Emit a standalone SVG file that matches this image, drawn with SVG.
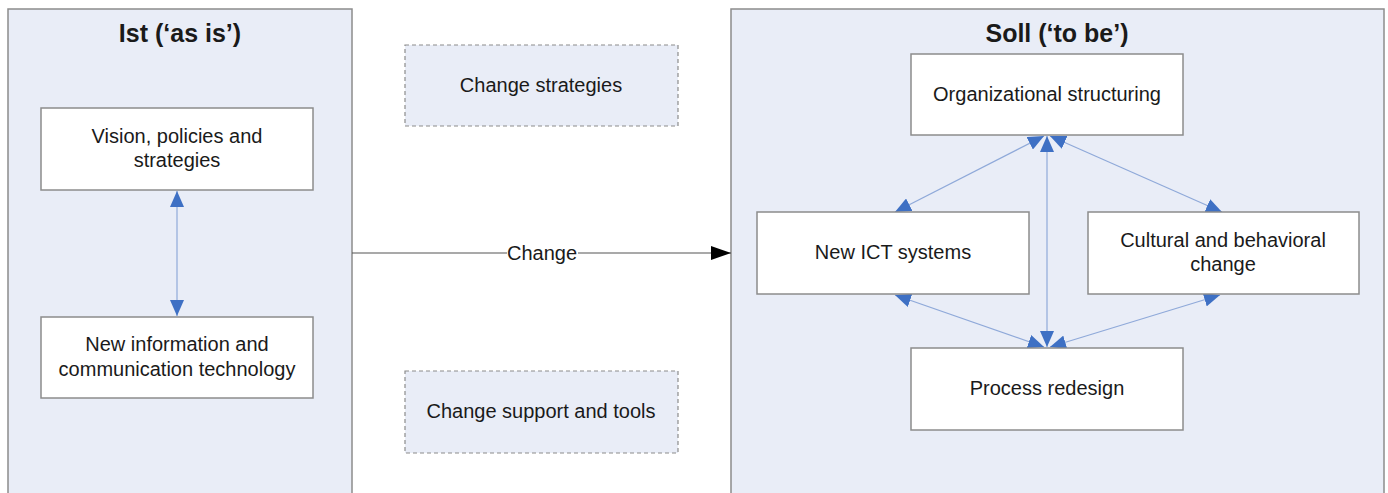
<svg xmlns="http://www.w3.org/2000/svg" width="1388" height="493" viewBox="0 0 1388 493">
  <style>
    .panel { fill: #E9EDF7; stroke: #8C8C8C; stroke-width: 1.5; }
    .box { fill: #FFFFFF; stroke: #8C8C8C; stroke-width: 1.5; }
    .dashed { fill: #E9EDF7; stroke: #8C8C8C; stroke-width: 1.2; stroke-dasharray: 4 3; }
    text { font-family: "Liberation Sans", Arial, sans-serif; fill: #1A1A1A; text-anchor: middle; }
    .label { font-size: 20px; }
    .title { font-size: 25px; font-weight: bold; }
    .rel { stroke: #8FA9D9; stroke-width: 1.2; fill: none; marker-start: url(#blueHead); marker-end: url(#blueHead); }
  </style>
  <defs>
    <marker id="blueHead" viewBox="0 0 16 14" refX="16" refY="7" markerWidth="16" markerHeight="14" markerUnits="userSpaceOnUse" orient="auto-start-reverse">
      <path d="M0,0 L16,7 L0,14 Z" fill="#3E70C4"/>
    </marker>
    <marker id="blackHead" viewBox="0 0 20 14" refX="20" refY="7" markerWidth="20" markerHeight="14" markerUnits="userSpaceOnUse" orient="auto">
      <path d="M0,0 L20,7 L0,14 Z" fill="#000000"/>
    </marker>
  </defs>
  <rect width="1388" height="493" fill="#FFFFFF"/>

  <g id="panel-ist">
    <rect class="panel" x="8" y="9" width="344" height="500"/>
    <text class="title" x="180" y="42">Ist (‘as is’)</text>
  </g>
  <g id="panel-soll">
    <rect class="panel" x="731" y="9" width="653" height="500"/>
    <text class="title" x="1057" y="42">Soll (‘to be’)</text>
  </g>

  <g id="connectors">
    <line class="rel" x1="177" y1="191" x2="177" y2="316"/>
    <line x1="352" y1="253" x2="731" y2="253" stroke="#555555" stroke-width="1.2" marker-end="url(#blackHead)"/>
    <line class="rel" x1="1047" y1="136" x2="1047" y2="347"/>
    <line class="rel" x1="1044" y1="136" x2="895" y2="212"/>
    <line class="rel" x1="1050" y1="136" x2="1222" y2="212"/>
    <line class="rel" x1="1044" y1="347" x2="895" y2="295"/>
    <line class="rel" x1="1050" y1="347" x2="1220" y2="295"/>
  </g>

  <g id="change-label">
    <rect x="507" y="241" width="71" height="24" fill="#FFFFFF"/>
    <text class="label" x="542" y="260">Change</text>
  </g>

  <g id="vision">
    <rect class="box" x="41" y="108" width="272" height="82"/>
    <text class="label" x="177" y="143">Vision, policies and</text>
    <text class="label" x="177" y="167">strategies</text>
  </g>
  <g id="new-ict-tech">
    <rect class="box" x="41" y="317" width="272" height="81"/>
    <text class="label" x="177" y="351">New information and</text>
    <text class="label" x="177" y="376">communication technology</text>
  </g>

  <g id="change-strategies">
    <rect class="dashed" x="405" y="45" width="273" height="81"/>
    <text class="label" x="541" y="92">Change strategies</text>
  </g>
  <g id="change-support">
    <rect class="dashed" x="405" y="371" width="273" height="82"/>
    <text class="label" x="541" y="418">Change support and tools</text>
  </g>

  <g id="org-structuring">
    <rect class="box" x="911" y="54" width="272" height="81"/>
    <text class="label" x="1047" y="101">Organizational structuring</text>
  </g>
  <g id="new-ict-systems">
    <rect class="box" x="757" y="212" width="272" height="82"/>
    <text class="label" x="893" y="259">New ICT systems</text>
  </g>
  <g id="cultural-change">
    <rect class="box" x="1088" y="212" width="271" height="82"/>
    <text class="label" x="1223" y="247">Cultural and behavioral</text>
    <text class="label" x="1223" y="271">change</text>
  </g>
  <g id="process-redesign">
    <rect class="box" x="911" y="348" width="272" height="82"/>
    <text class="label" x="1047" y="395">Process redesign</text>
  </g>
</svg>
